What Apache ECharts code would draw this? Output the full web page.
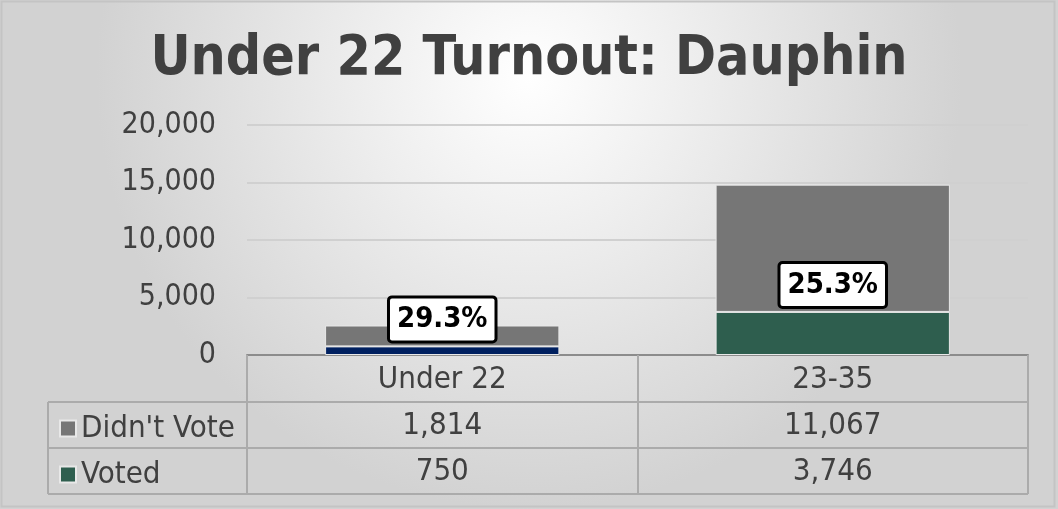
<!DOCTYPE html>
<html>
<head>
<meta charset="utf-8">
<script src="https://cdn.jsdelivr.net/npm/echarts@6/dist/echarts.min.js"></script>
<style>
  html, body { margin: 0; padding: 0; }
  #chart { width: 1058px; height: 509px; }
</style>
</head>
<body>
<div id="chart"></div>
<script>
// data
const titleText = 'Under 22 Turnout: Dauphin'
const categories = ['Under 22', '23-35']
const seriesNames = ["Didn't Vote", 'Voted']
const didntVote = [1814, 11067]
const voted = [750, 3746]
const yTicks = [0, 5000, 10000, 15000, 20000]

// layout (px)
const GRID_L = 247, GRID_R = 30, GRID_T = 125, GRID_B = 154
const W = 1058, H = 509
const ROW = 46
const axisY = H - GRID_B
const tableRight = W - GRID_R
const FONT = '"DejaVu Sans Condensed", "DejaVu Sans", sans-serif'
const TEXT = '#404040'
const LINE = '#ababab'

const fmt = (v) => v.toLocaleString('en-US')

const chart = echarts.init(document.getElementById('chart'))

// 表格的横线
const tableLines = []
const hline = (x1, x2, y) => ({
    type: 'line',
    shape: { x1: x1, y1: y, x2: x2, y2: y },
    style: { stroke: LINE, lineWidth: 2 },
    silent: true
})
tableLines.push(hline(GRID_L, tableRight, axisY + ROW + 1))
tableLines.push(hline(48, tableRight, axisY + ROW + 1))
tableLines.push(hline(48, tableRight, axisY + 2 * ROW + 1))
tableLines.push(hline(48, tableRight, axisY + 3 * ROW + 1))
tableLines.push({
    type: 'line',
    shape: { x1: 48, y1: axisY + ROW + 1, x2: 48, y2: axisY + 3 * ROW + 1 },
    style: { stroke: LINE, lineWidth: 2 },
    silent: true
})

const option = {
    backgroundColor: new echarts.graphic.RadialGradient(0.5, 0.15, 0.85, [
        { offset: 0, color: '#ffffff' },
        { offset: 1, color: '#d2d2d2' }
    ]),
    textStyle: { fontFamily: FONT },
    title: {
        text: titleText,
        left: 'center',
        top: 27,
        textStyle: {
            fontFamily: FONT,
            fontSize: 55,
            fontWeight: 'bold',
            color: TEXT
        }
    },
    legend: {
        data: seriesNames,
        orient: 'vertical',
        left: 54,
        top: axisY + ROW + 7,
        icon: 'rect',
        itemWidth: 16,
        itemHeight: 16,
        itemGap: 15,
        textStyle: { fontSize: 31, color: TEXT, lineHeight: 31, fontFamily: FONT },
        selectedMode: false
    },
    grid: { left: GRID_L, right: GRID_R, top: GRID_T, bottom: GRID_B },
    xAxis: {
        type: 'category',
        data: categories,
        axisLine: { lineStyle: { color: '#8c8c8c', width: 2 } },
        axisTick: {
            show: true,
            alignWithLabel: false,
            interval: 0,
            length: 3 * ROW + 1,
            lineStyle: { color: LINE, width: 2 }
        },
        axisLabel: {
            interval: 0,
            margin: 2,
            formatter: function (val, idx) {
                return [
                    '{c|' + val + '}',
                    '{c|' + fmt(didntVote[idx]) + '}',
                    '{c|' + fmt(voted[idx]) + '}'
                ].join('\n')
            },
            rich: {
                c: { fontSize: 31, lineHeight: ROW, color: TEXT, fontFamily: FONT }
            }
        }
    },
    yAxis: {
        type: 'value',
        min: yTicks[0],
        max: yTicks[yTicks.length - 1],
        interval: yTicks[1] - yTicks[0],
        axisLine: { show: false },
        axisTick: { show: false },
        axisLabel: {
            margin: 31,
            fontSize: 30,
            color: TEXT,
            fontFamily: FONT,
            formatter: (v) => fmt(v)
        },
        splitLine: { lineStyle: { color: '#d0d0d0', width: 2 } }
    },
    series: [
        {
            name: 'Voted',
            type: 'bar',
            stack: 'total',
            barWidth: '60%',
            z: 3,
            itemStyle: { color: '#2e5e4e', borderColor: '#e8e8e8', borderWidth: 1 },
            data: voted.map((v, i) => i === 0
                ? { value: v, itemStyle: { color: '#002060' } }
                : v),
            label: {
                show: true,
                position: 'top',
                distance: 6,
                formatter: function (p) {
                    const i = p.dataIndex
                    const pct = voted[i] / (voted[i] + didntVote[i]) * 100
                    return pct.toFixed(1) + '%'
                },
                fontFamily: FONT,
                fontSize: 29,
                fontWeight: 'bold',
                color: '#000',
                backgroundColor: '#fff',
                borderColor: '#000',
                borderWidth: 3,
                borderRadius: 2,
                padding: [7, 7, 6, 7]
            }
        },
        {
            name: "Didn't Vote",
            type: 'bar',
            stack: 'total',
            barWidth: '60%',
            z: 2,
            itemStyle: { color: '#767676', borderColor: '#e8e8e8', borderWidth: 1 },
            data: didntVote
        }
    ],
    graphic: [
        {
            type: 'rect',
            shape: { x: 1.5, y: 1.5, width: W - 5, height: H - 4 },
            style: { fill: 'none', stroke: '#c4c4c4', lineWidth: 2 },
            silent: true
        }
    ].concat(tableLines)
}

chart.setOption(option)
</script>
</body>
</html>
